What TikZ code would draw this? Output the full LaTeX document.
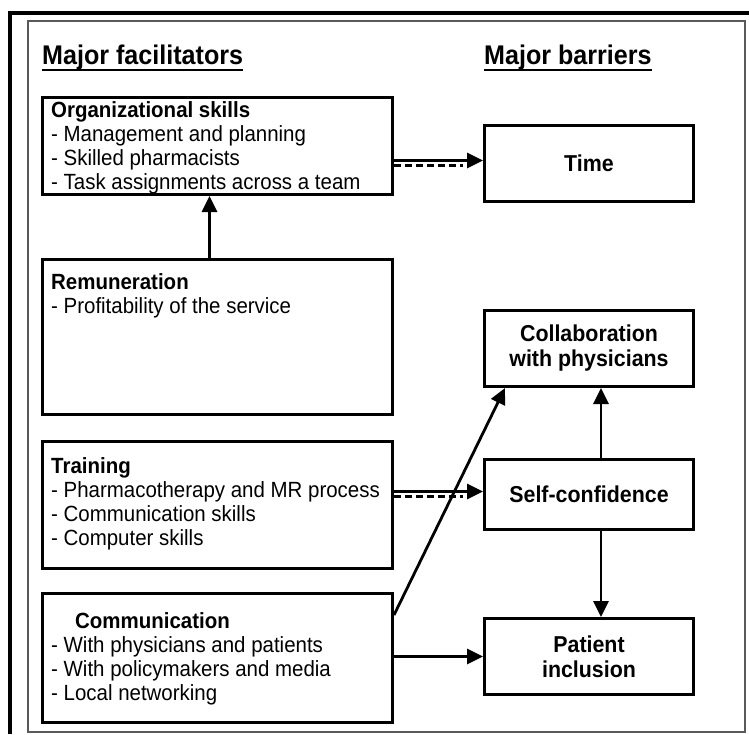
\documentclass[tikz,border=0pt]{standalone}
\usepackage{fontspec}
\setmainfont{Liberation Sans}[FakeStretch=0.93]
\usetikzlibrary{arrows.meta,calc}
\begin{document}
\begin{tikzpicture}[x=1pt,y=-1pt,
  box/.style={draw, line width=3pt, rectangle, inner sep=0pt, anchor=north west, minimum width=350pt},
  body/.style={anchor=north west, align=left, inner sep=0pt, font=\fontsize{22}{24}\selectfont},
  barrier/.style={draw, line width=3pt, rectangle, inner sep=0pt, anchor=north west,
    minimum width=209pt, align=center, font=\fontsize{23}{25}\selectfont\bfseries},
  link/.style={line width=2.8pt, -{Triangle[length=16pt,width=15pt]}},
  weak/.style={line width=2.8pt, dash pattern=on 7pt off 4pt},
  heading/.style={anchor=base west, inner sep=0pt, font=\fontsize{27}{30}\selectfont\bfseries}
]
\useasboundingbox (0,0) rectangle (749,734);
\fill[white] (0,0) rectangle (749,734);

% outer frame lines and inner panel
\draw[line width=3.5pt] (10,734) -- (10,13) -- (749,13);
\draw[line width=1.5pt, black!65] (28,21) rectangle (745,732);

% column headings
\node[heading] (hf) at (42,64) {Major facilitators};
\node[heading] (hb) at (484,64) {Major barriers};
\draw[line width=2.6pt] ($(hf.base west)+(0,6)$) -- ($(hf.base east)+(0,6)$);
\draw[line width=2.6pt] ($(hb.base west)+(0,6)$) -- ($(hb.base east)+(0,6)$);

% facilitator boxes
\node[box, minimum height=97pt]  (org)   at (41,96)  {};
\node[box, minimum height=155pt] (rem)   at (41,258) {};
\node[box, minimum height=127pt] (train) at (41,440) {};
\node[box, minimum height=129pt] (comm)  at (41,592) {};

\node[body] (orgtxt) at ($(org.north west)+(10,5)$)
  {\textbf{Organizational skills}\\- Management and planning\\- Skilled pharmacists\\- Task assignments across a team};
\node[body] (remtxt) at ($(rem.north west)+(10,15)$)
  {\textbf{Remuneration}\\- Profitability of the service};
\node[body] (traintxt) at ($(train.north west)+(10,17)$)
  {\textbf{Training}\\- Pharmacotherapy and MR process\\- Communication skills\\- Computer skills};
\node[body] (commtxt) at ($(comm.north west)+(10,20)$)
  {\hspace*{24pt}\textbf{Communication}\\- With physicians and patients\\- With policymakers and media\\- Local networking};

% barrier boxes
\node[barrier, minimum height=76pt] (time)    at (483,124) {Time};
\node[barrier, minimum height=76pt] (collab)  at (483,309) {Collaboration\\with physicians};
\node[barrier, minimum height=70pt] (self)    at (483,458) {Self-confidence};
\node[barrier, minimum height=76pt] (patient) at (483,617) {Patient\\inclusion};

% connectors
\coordinate (tA) at ($(time.west)+(0,-3)$);
\coordinate (tB) at ($(time.west)+(-20,2)$);
\draw[link] (org.east |- tA) -- (tA);
\draw[weak] (org.east |- tB) -- (tB);

\draw[link] ($(rem.north)+(-8,0)$) -- ($(org.south)+(-8,0)$);

\coordinate (sA) at ($(self.west)+(0,-3)$);
\coordinate (sB) at ($(self.west)+(-20,2)$);
\draw[link] (train.east |- sA) -- (sA);
\draw[weak] (train.east |- sB) -- (sB);

\draw[link] ($(comm.north east)+(0,23)$) -- ($(collab.south west)+(22,0)$);
\draw[link] (comm.east |- patient.west) -- (patient.west);

\draw[link] ($(self.north)+(12,0)$) -- ($(collab.south)+(12,0)$);
\draw[link] ($(self.south)+(12,0)$) -- ($(patient.north)+(12,0)$);
\end{tikzpicture}
\end{document}
